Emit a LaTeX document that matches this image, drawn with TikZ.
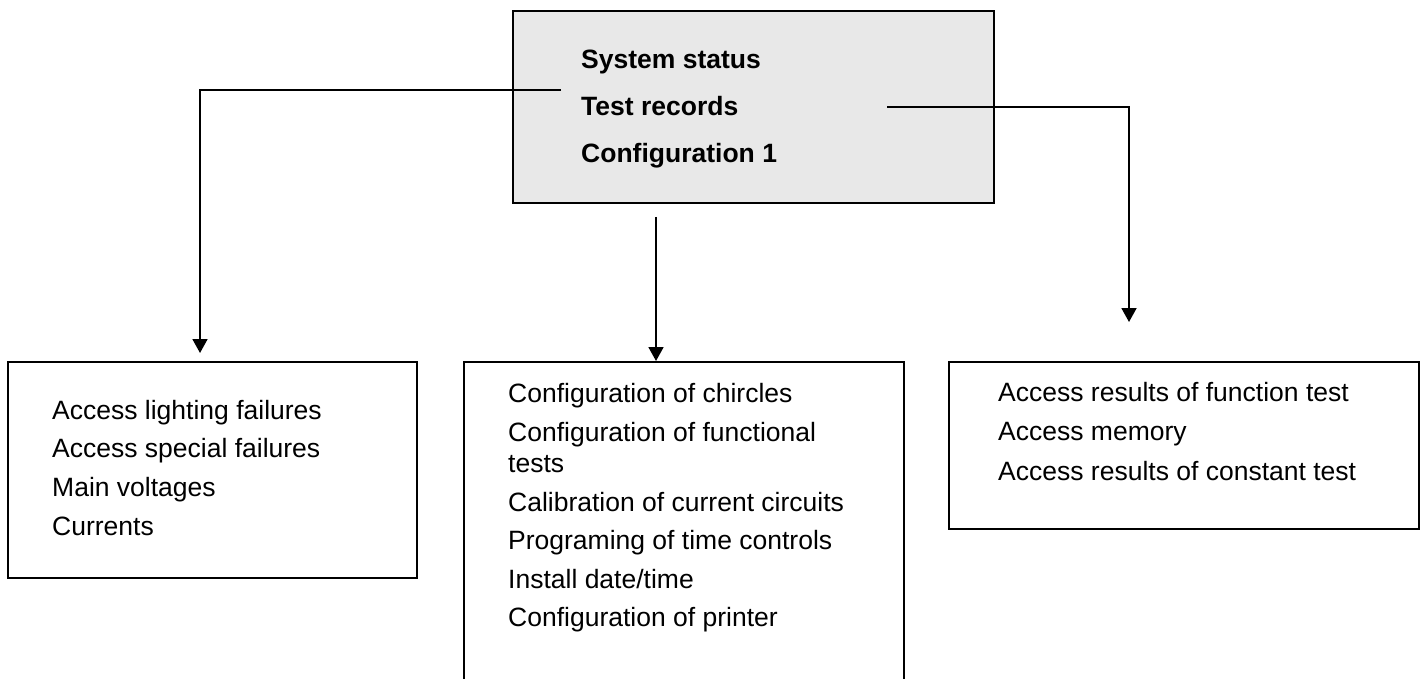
\documentclass[tikz,border=0pt]{standalone}
\usepackage{fontspec}
\setmainfont{Liberation Sans}
\usetikzlibrary{arrows.meta}
\definecolor{boxgray}{RGB}{232,232,232}
\begin{document}
\begin{tikzpicture}[x=1pt,y=-1pt,
  box/.style={draw=black, line width=2pt, inner sep=0pt, anchor=north west},
  txt/.style={anchor=base west, inner sep=0pt, font=\fontsize{26.5}{30.5}\selectfont},
  btxt/.style={anchor=base west, inner sep=0pt, font=\fontsize{26.5}{30.5}\selectfont\bfseries},
  conn/.style={line width=1.8pt},
  arr/.style={conn, -{Triangle[width=15pt,length=14pt]}}]
\path[use as bounding box, clip] (0,0) rectangle (1421,679);

% top box
\node[box, fill=boxgray, minimum width=481pt, minimum height=192pt] (top) at (512,10) {};
\node[btxt] (t1) at (581,69) {System status};
\node[btxt] (t2) at (581,115.7) {Test records};
\node[btxt] (t3) at (581,163) {Configuration 1};

% lower boxes
\node[box, minimum width=409pt, minimum height=216pt] (left) at (7,361) {};
\node[box, minimum width=440pt, minimum height=360pt] (mid) at (463,361) {};
\node[box, minimum width=470pt, minimum height=167pt] (right) at (948,361) {};

% left box text
\node[txt] (l1) at (52,419) {Access lighting failures};
\node[txt] (l2) at (52,457.7) {Access special failures};
\node[txt] (l3) at (52,496.7) {Main voltages};
\node[txt] (l4) at (52,535) {Currents};

% middle box text
\node[txt] (m1) at (508,402.7) {Configuration of chircles};
\node[txt] (m2) at (508,441.7) {Configuration of functional};
\node[txt] (m3) at (508,472.3) {tests};
\node[txt] (m4) at (508,511) {Calibration of current circuits};
\node[txt] (m5) at (508,549.3) {Programing of time controls};
\node[txt] (m6) at (508,588.3) {Install date/time};
\node[txt] (m7) at (508,626.7) {Configuration of printer};

% right box text
\node[txt] (r1) at (998,401.7) {Access results of function test};
\node[txt] (r2) at (998,440.5) {Access memory};
\node[txt] (r3) at (998,480) {Access results of constant test};

% connectors
\coordinate (lstart) at (561,90);
\coordinate (lend) at (200,353);
\draw[arr] (lstart) -| (lend);

\coordinate (mstart) at (656,217);
\draw[arr] (mstart) -- (mstart |- mid.north);

\coordinate (rstart) at (887,107.3);
\coordinate (rend) at (1129,322);
\draw[arr] (rstart) -| (rend);
\end{tikzpicture}
\end{document}
